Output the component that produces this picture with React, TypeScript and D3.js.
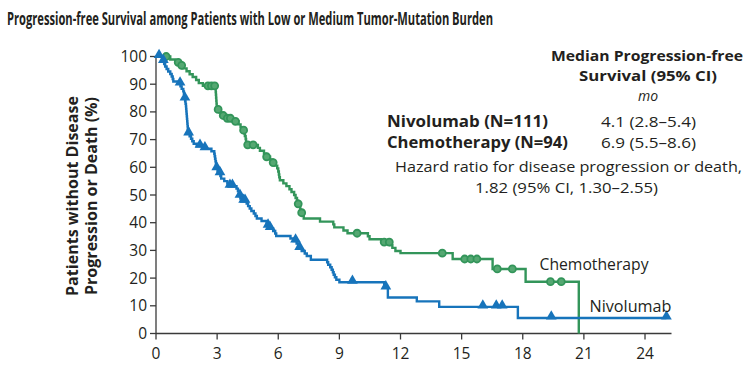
import React from "react";
import * as d3 from "d3";

// ---------- data ----------
const xTicks = [0, 3, 6, 9, 12, 15, 18, 21, 24];
const yTicks = [0, 10, 20, 30, 40, 50, 60, 70, 80, 90, 100];

// Nivolumab Kaplan-Meier steps (months, % without progression)
const nivoTimes = [0, 0.30, 0.36, 0.40, 0.45, 0.52, 0.60, 0.70, 0.77, 0.82, 0.85, 1.10, 1.20, 1.26, 1.34, 1.37, 1.39, 1.41, 1.43, 1.45, 1.47, 1.48, 1.49, 1.50, 1.51, 1.52, 1.53, 1.54, 1.55, 1.56, 1.58, 1.60, 1.65, 1.72, 1.78, 1.85, 2.00, 2.35, 2.72, 2.86, 2.88, 2.90, 2.92, 2.94, 2.96, 2.98, 3.02, 3.10, 3.16, 3.20, 3.35, 3.50, 3.58, 3.95, 4.02, 4.06, 4.10, 4.14, 4.30, 4.45, 4.52, 4.60, 4.68, 4.80, 4.88, 4.95, 5.18, 5.43, 5.50, 5.52, 5.75, 5.85, 5.90, 6.60, 6.75, 6.90, 6.97, 7.02, 7.15, 7.30, 7.40, 7.60, 8.40, 8.45, 8.55, 8.62, 8.68, 8.72, 8.78, 8.85, 9.00, 11.20, 11.38, 12.80, 13.90, 17.76, 25.05];
const nivoSurv = [100, 99.1, 98.2, 97.3, 96.4, 95.5, 94.6, 93.7, 92.8, 91.9, 91.0, 90.1, 89.2, 88.3, 87.4, 86.5, 85.6, 84.7, 83.8, 82.9, 82.0, 81.1, 80.2, 79.3, 78.4, 77.5, 76.6, 75.7, 74.8, 73.9, 73.0, 72.1, 71.2, 70.3, 69.4, 68.5, 67.6, 66.7, 65.8, 64.9, 64.0, 63.1, 62.2, 61.3, 60.4, 59.5, 58.6, 57.7, 56.8, 55.9, 55.0, 54.1, 53.2, 52.3, 51.4, 50.5, 49.6, 48.7, 47.8, 46.9, 46.0, 45.1, 44.2, 43.3, 42.4, 41.5, 40.6, 39.7, 38.8, 37.9, 37.0, 36.1, 35.2, 34.3, 33.4, 32.5, 31.6, 30.7, 29.8, 28.9, 28.0, 26.6, 25.7, 24.8, 23.9, 23.0, 22.1, 21.2, 20.3, 19.4, 18.5, 16.5, 13.0, 11.6, 9.6, 5.6, 5.6];
const nivoCensor = [0.15, 0.36, 1.18, 1.42, 1.60, 2.16, 2.40, 2.98, 3.14, 3.63, 3.75, 4.12, 4.30, 4.37, 5.50, 5.60, 6.85, 7.05, 9.64, 11.28, 16.04, 16.70, 16.99, 19.40, 25.05];

// Chemotherapy Kaplan-Meier steps
const chemoTimes = [0, 0.70, 0.95, 1.26, 1.30, 1.50, 1.65, 1.80, 1.97, 2.10, 2.30, 2.92, 2.93, 2.94, 2.95, 2.96, 2.97, 2.98, 3.02, 3.12, 3.20, 3.40, 3.75, 4.05, 4.15, 4.25, 4.33, 4.36, 4.40, 4.42, 4.48, 5.00, 5.10, 5.30, 5.40, 5.60, 5.72, 5.85, 5.95, 6.00, 6.03, 6.05, 6.08, 6.25, 6.40, 6.55, 6.65, 6.78, 6.85, 6.92, 6.97, 7.04, 7.08, 7.12, 7.18, 7.25, 8.05, 8.70, 8.75, 9.20, 9.40, 10.40, 10.48, 11.05, 11.50, 11.60, 11.75, 12.00, 14.56, 16.52, 18.14, 20.75];
const chemoSurv = [100, 98.9, 97.9, 96.8, 95.7, 94.7, 93.6, 92.6, 91.5, 90.4, 89.4, 88.3, 87.2, 86.2, 85.1, 84.0, 83.0, 81.9, 80.9, 79.8, 78.7, 77.7, 76.6, 75.5, 74.5, 73.4, 72.3, 71.3, 70.2, 69.1, 68.1, 67.0, 66.0, 64.9, 63.8, 62.8, 61.7, 60.6, 59.6, 58.5, 57.4, 56.4, 55.3, 54.2, 53.2, 52.1, 51.1, 50.0, 48.9, 47.9, 46.8, 45.7, 44.7, 43.6, 42.5, 41.5, 40.4, 39.4, 38.3, 37.2, 36.2, 35.1, 34.0, 33.0, 31.9, 30.9, 29.8, 29.0, 26.9, 23.3, 18.7, 0];
const chemoCensor = [0.50, 1.09, 1.26, 2.55, 2.72, 2.88, 3.05, 3.30, 3.50, 3.65, 3.90, 4.30, 4.50, 4.77, 5.43, 5.75, 6.98, 7.15, 9.87, 11.20, 11.45, 14.05, 15.15, 15.45, 15.75, 16.75, 17.49, 19.36, 19.89];

// ---------- styling ----------
const BLUE = "#1774bb";
const GREEN = "#33955a";
const INK = "#231f20";
const FONT = "'Open Sans', 'Noto Sans', sans-serif";

const W = 755;
const H = 370;

function stepValue(times: number[], surv: number[], t: number) {
  let v = surv[0];
  for (let i = 0; i < times.length; i++) {
    if (times[i] <= t + 1e-9) v = surv[i];
    else break;
  }
  return v;
}

export default function App() {
  const x = d3.scaleLinear().domain([0, 25.3]).range([156, 671.5]);
  const y = d3.scaleLinear().domain([0, 100]).range([333.5, 56.5]);

  const line = d3
    .line<[number, number]>()
    .x((d) => x(d[0]))
    .y((d) => y(d[1]))
    .curve(d3.curveStepAfter);

  const nivoPts: [number, number][] = nivoTimes.map((t, i) => [t, nivoSurv[i]]);
  const chemoPts: [number, number][] = chemoTimes.map((t, i) => [t, chemoSurv[i]]);

  const tri = d3.symbol().type(d3.symbolTriangle).size(50)();
  const titleScale = 0.64;

  return (
    <svg
      width={W}
      height={H}
      style={{ position: "absolute", left: 0, top: 0, background: "#fff" }}
      fontFamily={FONT}
    >
      {/* Title (condensed by horizontal scaling) */}
      <g transform={`translate(7,25) scale(${titleScale},1)`}>
        <text x={0} y={0} fontSize={18} fontWeight={700} fill={INK} textLength={486 / titleScale} lengthAdjust="spacingAndGlyphs">
          Progression-free Survival among Patients with Low or Medium Tumor-Mutation Burden
        </text>
      </g>

      {/* Y axis label */}
      <g transform="translate(78,196) rotate(-90)">
        <text x={0} y={0} textAnchor="middle" fontSize={15.5} fontWeight={700} fill={INK} textLength={200} lengthAdjust="spacingAndGlyphs">
          Patients without Disease
        </text>
      </g>
      <g transform="translate(97,196) rotate(-90)">
        <text x={0} y={0} textAnchor="middle" fontSize={15.5} fontWeight={700} fill={INK} textLength={198} lengthAdjust="spacingAndGlyphs">
          Progression or Death (%)
        </text>
      </g>

      {/* Axes */}
      <line x1={x(0)} x2={x(0)} y1={y(100)} y2={y(0)} stroke="#3a3a3a" strokeWidth={1.3} />
      <line x1={x(0)} x2={x(25.3)} y1={y(0)} y2={y(0)} stroke="#3a3a3a" strokeWidth={1.3} />
      {yTicks.map((t) => (
        <g key={"y" + t}>
          <line x1={x(0) - 6} x2={x(0)} y1={y(t)} y2={y(t)} stroke="#3a3a3a" strokeWidth={1.3} />
          <text x={x(0) - 9} y={y(t) + 5.5} textAnchor="end" fontSize={15.5} fill={INK}>
            {t}
          </text>
        </g>
      ))}
      {xTicks.map((t) => (
        <g key={"x" + t}>
          <line x1={x(t)} x2={x(t)} y1={y(0)} y2={y(0) + 6} stroke="#3a3a3a" strokeWidth={1.3} />
          <text x={x(t)} y={359} textAnchor="middle" fontSize={15.5} fill={INK}>
            {t}
          </text>
        </g>
      ))}

      {/* Curves */}
      <path d={line(chemoPts) || ""} fill="none" stroke={GREEN} strokeWidth={2.4} />
      <path d={line(nivoPts) || ""} fill="none" stroke={BLUE} strokeWidth={2.4} />

      {/* Censor marks */}
      {chemoCensor.map((t, i) => (
        <circle
          key={"c" + i}
          cx={x(t)}
          cy={y(stepValue(chemoTimes, chemoSurv, t))}
          r={3.5}
          fill="#55a872"
          stroke={GREEN}
          strokeWidth={1.8}
        />
      ))}
      {nivoCensor.map((t, i) => (
        <path
          key={"n" + i}
          d={tri || ""}
          transform={`translate(${x(t)},${y(stepValue(nivoTimes, nivoSurv, t)) - 1.5})`}
          fill={BLUE}
        />
      ))}

      {/* Curve labels */}
      <text x={539.5} y={269.5} fontSize={15.5} fill={INK} textLength={109} lengthAdjust="spacingAndGlyphs">
        Chemotherapy
      </text>
      <text x={589.5} y={311.5} fontSize={15.5} fill={INK} textLength={82} lengthAdjust="spacingAndGlyphs">
        Nivolumab
      </text>

      {/* Legend block */}
      <text x={647} y={60.5} textAnchor="middle" fontSize={14.5} fontWeight={700} fill={INK} textLength={192} lengthAdjust="spacingAndGlyphs">
        Median Progression-free
      </text>
      <text x={648} y={80.5} textAnchor="middle" fontSize={14.5} fontWeight={700} fill={INK} textLength={138} lengthAdjust="spacingAndGlyphs">
        Survival (95% CI)
      </text>
      <text x={648} y={101} textAnchor="middle" fontSize={14} fontStyle="italic" fill={INK}>
        mo
      </text>
      <text x={387} y={127} fontSize={16} fontWeight={700} fill={INK} textLength={161} lengthAdjust="spacingAndGlyphs">
        Nivolumab (N=111)
      </text>
      <text x={601} y={127} fontSize={15} fill={INK} textLength={95} lengthAdjust="spacingAndGlyphs">
        4.1 (2.8–5.4)
      </text>
      <text x={387} y={148} fontSize={16} fontWeight={700} fill={INK} textLength={181} lengthAdjust="spacingAndGlyphs">
        Chemotherapy (N=94)
      </text>
      <text x={601} y={148} fontSize={15} fill={INK} textLength={95} lengthAdjust="spacingAndGlyphs">
        6.9 (5.5–8.6)
      </text>
      <text x={395} y={171.5} fontSize={15} fill={INK} textLength={347} lengthAdjust="spacingAndGlyphs">
        Hazard ratio for disease progression or death,
      </text>
      <text x={475} y={193} fontSize={15} fill={INK} textLength={183} lengthAdjust="spacingAndGlyphs">
        1.82 (95% CI, 1.30–2.55)
      </text>
    </svg>
  );
}
